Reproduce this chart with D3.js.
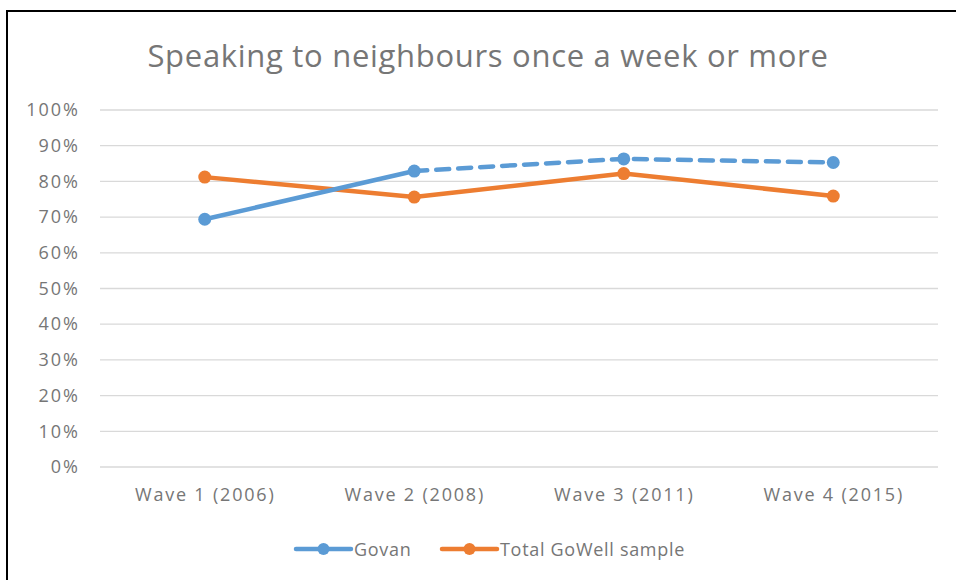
<!DOCTYPE html>
<html>
<head>
<meta charset="utf-8">
<script src="https://cdn.jsdelivr.net/npm/d3@7"></script>
<style>
  body { margin: 0; background: #fff; }
  text { font-family: "Open Sans", sans-serif; fill: #767676; }
</style>
</head>
<body>
<div id="chart"></div>
<script>
// Chart data
var waves = ["Wave 1 (2006)", "Wave 2 (2008)", "Wave 3 (2011)", "Wave 4 (2015)"];
var govan = [69.4, 82.9, 86.3, 85.3];
var goWell = [81.2, 75.6, 82.2, 75.9];
var yTicks = [0, 10, 20, 30, 40, 50, 60, 70, 80, 90, 100];

var svgWidth = 956;
var svgHeight = 580;

var margin = { top: 110, right: 18, bottom: 113, left: 100 };
var width = svgWidth - margin.left - margin.right;
var height = svgHeight - margin.top - margin.bottom;

var svg = d3.select("#chart")
  .append("svg")
  .attr("width", svgWidth)
  .attr("height", svgHeight);

// outer frame
svg.append("rect")
  .attr("x", 7).attr("y", 11)
  .attr("width", 960).attr("height", 600)
  .attr("fill", "none")
  .attr("stroke", "#000")
  .attr("stroke-width", 2);

var chartGroup = svg.append("g")
  .attr("transform", `translate(${margin.left}, ${margin.top})`);

// scales
var xScale = d3.scalePoint()
  .domain(waves)
  .range([0, width])
  .padding(0.5);

var yScale = d3.scaleLinear()
  .domain([0, 100])
  .range([height, 0]);

// gridlines
chartGroup.selectAll(".grid")
  .data(yTicks)
  .enter()
  .append("line")
  .attr("x1", 0)
  .attr("x2", width)
  .attr("y1", d => yScale(d))
  .attr("y2", d => yScale(d))
  .attr("stroke", "#d9d9d9")
  .attr("stroke-width", 1.3);

// y axis
var leftAxis = d3.axisLeft(yScale)
  .tickValues(yTicks)
  .tickFormat(d => d + "%")
  .tickSize(0)
  .tickPadding(20);

var yAxis = chartGroup.append("g").call(leftAxis);
yAxis.select(".domain").remove();
yAxis.selectAll("text")
  .style("font-size", "18px")
  .style("letter-spacing", "2px")
  .style("font-family", "'Open Sans', sans-serif")
  .attr("fill", "#767676");

// x axis
var bottomAxis = d3.axisBottom(xScale).tickSize(0).tickPadding(21);
var xAxis = chartGroup.append("g")
  .attr("transform", `translate(0, ${height})`)
  .call(bottomAxis);
xAxis.select(".domain").remove();
xAxis.selectAll("text")
  .style("font-size", "18px")
  .style("letter-spacing", "1.8px")
  .style("font-family", "'Open Sans', sans-serif")
  .attr("fill", "#767676");

// lines
var line = d3.line()
  .x(d => xScale(d.wave))
  .y(d => yScale(d.value));

var govanPts = waves.map((w, i) => ({ wave: w, value: govan[i] }));
var goWellPts = waves.map((w, i) => ({ wave: w, value: goWell[i] }));

chartGroup.append("path")
  .datum(goWellPts)
  .attr("d", line)
  .attr("fill", "none")
  .attr("stroke", "#ED7D31")
  .attr("stroke-width", 4.5)
  .attr("stroke-linejoin", "round");

chartGroup.append("path")
  .datum(govanPts.slice(0, 2))
  .attr("d", line)
  .attr("fill", "none")
  .attr("stroke", "#5B9BD5")
  .attr("stroke-width", 4.5);

chartGroup.append("path")
  .datum(govanPts.slice(1))
  .attr("d", line)
  .attr("fill", "none")
  .attr("stroke", "#5B9BD5")
  .attr("stroke-width", 4.5)
  .attr("stroke-dasharray", "13,9")
  .attr("stroke-linecap", "round");

chartGroup.selectAll(".dotO")
  .data(goWellPts)
  .enter()
  .append("circle")
  .attr("cx", d => xScale(d.wave))
  .attr("cy", d => yScale(d.value))
  .attr("r", 6.5)
  .attr("fill", "#ED7D31");

chartGroup.selectAll(".dotB")
  .data(govanPts)
  .enter()
  .append("circle")
  .attr("cx", d => xScale(d.wave))
  .attr("cy", d => yScale(d.value))
  .attr("r", 6.5)
  .attr("fill", "#5B9BD5");

// title
svg.append("text")
  .attr("x", 488)
  .attr("y", 67)
  .style("text-anchor", "middle")
  .style("font-size", "31px")
  .style("letter-spacing", "0.7px")
  .text("Speaking to neighbours once a week or more");

// legend
var legend = [
  { name: "Govan", color: "#5B9BD5", x: 296 },
  { name: "Total GoWell sample", color: "#ED7D31", x: 442 }
];

var lg = svg.selectAll(".legend")
  .data(legend)
  .enter()
  .append("g")
  .attr("transform", d => `translate(${d.x}, 549)`);

lg.append("line")
  .attr("x1", 0).attr("x2", 55)
  .attr("stroke", d => d.color)
  .attr("stroke-width", 4.5)
  .attr("stroke-linecap", "round");

lg.append("circle")
  .attr("cx", 27.5)
  .attr("r", 6)
  .attr("fill", d => d.color);

lg.append("text")
  .attr("x", 58)
  .attr("y", 6.5)
  .style("font-size", "18px")
  .style("letter-spacing", "0.7px")
  .text(d => d.name);
</script>
</body>
</html>
